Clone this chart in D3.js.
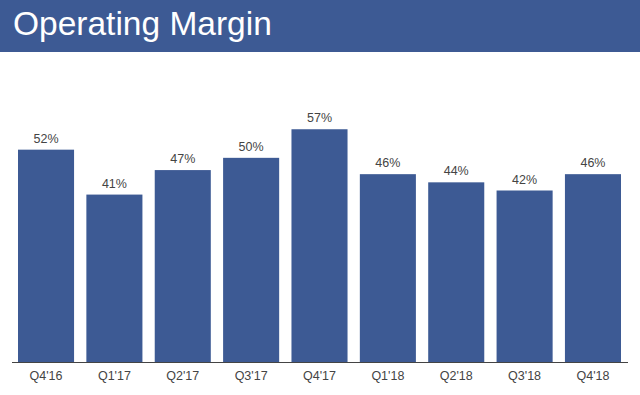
<!DOCTYPE html>
<html>
<head>
<meta charset="utf-8">
<script src="https://cdn.jsdelivr.net/npm/d3@7"></script>
<style>
  body { margin: 0; background: #fff; }
  text { font-family: "Liberation Sans", Arial, sans-serif; }
</style>
</head>
<body>
<script>
const quarters = ['Q4\'16', 'Q1\'17', 'Q2\'17', 'Q3\'17', 'Q4\'17', 'Q1\'18', 'Q2\'18', 'Q3\'18', 'Q4\'18'];
const margins = [52, 41, 47, 50, 57, 46, 44, 42, 46];

const width = 640;
const height = 395;
const blue = '#3d5a94';

const svg = d3.select('body')
  .append('svg')
  .attr('width', width)
  .attr('height', height);

// header band
svg.append('rect')
  .attr('x', 0).attr('y', 0)
  .attr('width', width).attr('height', 52)
  .attr('fill', blue);

svg.append('text')
  .attr('x', 13)
  .attr('y', 35)
  .attr('fill', '#fff')
  .attr('font-size', 33.5)
  .text('Operating Margin');

const x = d3.scaleBand()
  .domain(quarters)
  .range([18, 621])
  .paddingInner(0.18)
  .paddingOuter(0);

const y = d3.scaleLinear()
  .domain([0, 60])
  .range([362, 117]);

const data = quarters.map((q, i) => ({ q, v: margins[i] }));

svg.append('g')
  .selectAll('rect')
  .data(data)
  .join('rect')
  .attr('x', d => x(d.q))
  .attr('y', d => y(d.v))
  .attr('width', x.bandwidth())
  .attr('height', d => y(0) - y(d.v))
  .attr('fill', blue);

svg.append('g')
  .selectAll('text')
  .data(data)
  .join('text')
  .attr('x', d => x(d.q) + x.bandwidth() / 2)
  .attr('y', d => y(d.v) - 7)
  .attr('text-anchor', 'middle')
  .attr('font-size', 12.5)
  .attr('fill', '#444')
  .text(d => d.v + '%');

// baseline
svg.append('line')
  .attr('x1', 12).attr('x2', 628)
  .attr('y1', y(0) + 0.5).attr('y2', y(0) + 0.5)
  .attr('stroke', '#444')
  .attr('stroke-width', 1);

svg.append('g')
  .selectAll('text')
  .data(quarters)
  .join('text')
  .attr('x', d => x(d) + x.bandwidth() / 2)
  .attr('y', 380)
  .attr('text-anchor', 'middle')
  .attr('font-size', 12.5)
  .attr('fill', '#444')
  .text(d => d);
</script>
</body>
</html>
